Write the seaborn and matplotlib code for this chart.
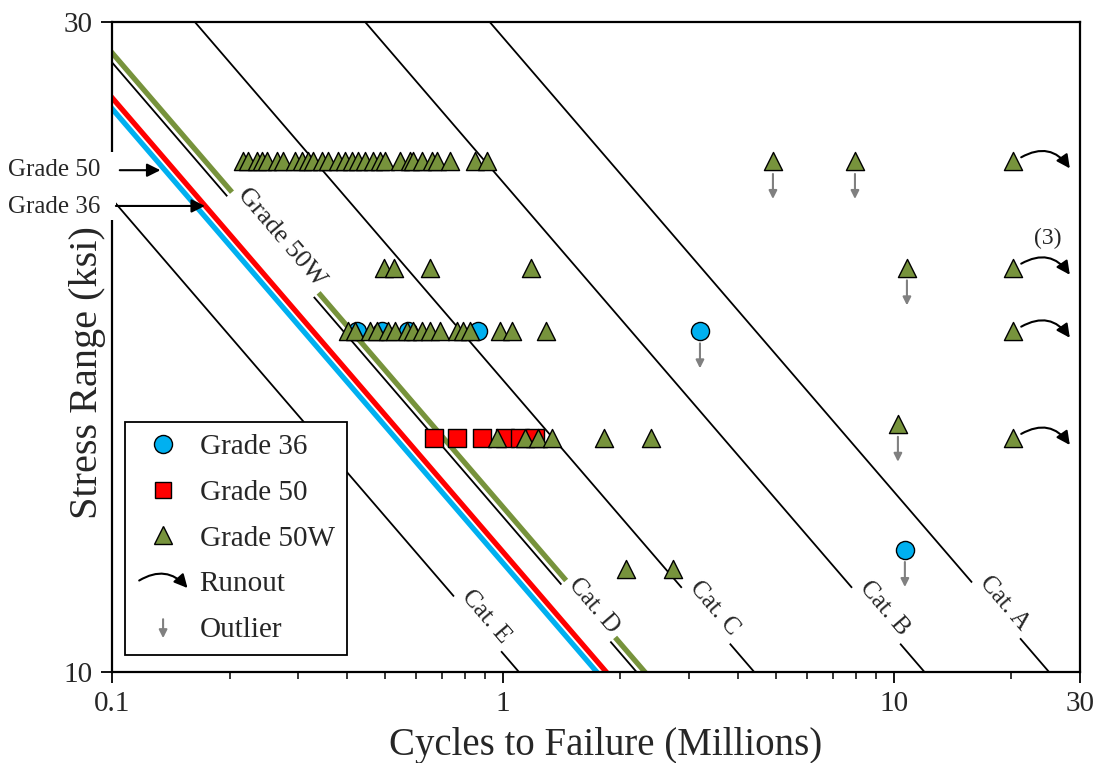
import numpy as np
import pandas as pd
import seaborn as sns
import matplotlib
matplotlib.use("Agg")
import matplotlib.pyplot as plt
from matplotlib.lines import Line2D
from matplotlib.patches import FancyArrowPatch, Rectangle
from matplotlib.legend_handler import HandlerBase
from matplotlib.transforms import ScaledTranslation
from matplotlib.ticker import FixedLocator, NullLocator, FixedFormatter

# ---------------- data ----------------
# Grade 36 (circles): cycles (millions), stress range (ksi)
g36_cycles = [0.4237, 0.4909, 0.5721, 0.8642, 3.196, 10.69]
g36_stress = [17.8, 17.8, 17.8, 17.8, 17.8, 12.3]

# Grade 50 (squares)
g50_cycles = [0.6668, 0.7635, 0.8848, 1.013, 1.107, 1.209]
g50_stress = [14.85, 14.85, 14.85, 14.85, 14.85, 14.85]

# Grade 50W (triangles)
g50w_cycles = [
    # 23.7 ksi
    0.2164, 0.2228, 0.2350, 0.2420, 0.2493, 0.2644, 0.2739, 0.2940, 0.3064, 0.3174,
    0.3269, 0.3446, 0.3570, 0.3787, 0.3947, 0.4113, 0.4261, 0.4441, 0.4655, 0.4851,
    0.4996, 0.5457, 0.5788, 0.5891, 0.6212, 0.6590, 0.6787, 0.7327, 0.8488, 0.9112,
    4.913, 7.966, 20.2,
    # 19.8 ksi
    0.4966, 0.5268, 0.6512, 1.181, 10.82, 20.2,
    # 17.8 ksi
    0.4017, 0.4186, 0.4573, 0.4766, 0.5085, 0.5300, 0.5687, 0.5891, 0.6212, 0.6512,
    0.6908, 0.7635, 0.7910, 0.8243, 0.9836, 1.056, 1.290, 20.2,
    # 14.85 ksi (one outlier at 15.2)
    0.9665, 1.140, 1.231, 1.336, 1.816, 2.395, 10.26, 20.2,
    # 11.9 ksi
    2.067, 2.726,
]
g50w_stress = (
    [23.7] * 33
    + [19.8] * 6
    + [17.8] * 18
    + [14.85] * 6 + [15.2] + [14.85]
    + [11.9] * 2
)

# Outliers and runouts (cycles, stress)
outlier_cycles = [4.913, 7.966, 10.82, 10.26, 3.196, 10.69]
outlier_stress = [23.7, 23.7, 19.8, 15.2, 17.8, 12.3]
runout_cycles = [20.2, 20.2, 20.2, 20.2]
runout_stress = [23.7, 19.8, 17.8, 14.85]

# S-N curves: N (millions of cycles) = A / S^3
cat_names = ["Cat. A", "Cat. B", "Cat. C", "Cat. D", "Cat. E"]
cat_A = [25000.0, 12000.0, 4400.0, 2200.0, 1100.0]
grade_line_names = ["Grade 50W", "Grade 50", "Grade 36"]
grade_line_A = [2310.0, 1840.0, 1740.0]

x_ticks = [0.1, 1, 10, 30]
x_tick_labels = ["0.1", "1", "10", "30"]
x_minor = [0.2, 0.3, 0.4, 0.5, 0.6, 0.7, 0.8, 0.9, 2, 3, 4, 5, 6, 7, 8, 9, 20]
y_ticks = [10, 30]
y_tick_labels = ["10", "30"]

# ---------------- style ----------------
sns.set_theme(style="white")
plt.rcParams["font.family"] = ["Liberation Serif", "DejaVu Serif"]

BLUE = "#00B0F0"
RED = "#FF0000"
GREEN = "#77933C"
GRAY = "#808080"

fig = plt.figure(figsize=(10.99, 7.63), dpi=100)
ax = fig.add_axes([112 / 1099, (763 - 672) / 763, (1080 - 112) / 1099, (672 - 22) / 763])
ax.set_xscale("log")
ax.set_yscale("log")

S_grid = np.array([9.0, 31.0])

# category lines
for name, A in zip(cat_names, cat_A):
    df = pd.DataFrame({"N": A / S_grid ** 3, "S": S_grid})
    sns.lineplot(data=df, x="N", y="S", ax=ax, color="black", lw=1.3,
                 estimator=None, sort=False, zorder=2)

# grade lines
for name, A, c in zip(grade_line_names, grade_line_A, [GREEN, RED, BLUE]):
    df = pd.DataFrame({"N": A / S_grid ** 3, "S": S_grid})
    sns.lineplot(data=df, x="N", y="S", ax=ax, color=c, lw=3.8,
                 estimator=None, sort=False, zorder=2.2)

ax.set_xlim(0.1, 30)
ax.set_ylim(10, 30)

# rotation angle of S-N lines in display space
def line_angle(A):
    p1 = ax.transData.transform((A / 12.0 ** 3, 12.0))
    p2 = ax.transData.transform((A / 20.0 ** 3, 20.0))
    a = np.degrees(np.arctan2(p2[1] - p1[1], p2[0] - p1[0]))
    if a > 90:
        a -= 180
    if a < -90:
        a += 180
    return a

ang = line_angle(2200.0)

label_S = [11.1, 11.0, 11.0, 11.05, 10.85]
for name, A, s in zip(cat_names, cat_A, label_S):
    ax.annotate(name, xy=(A / s ** 3, s), xytext=(6, 5), textcoords="offset points",
                rotation=ang, rotation_mode="anchor", ha="center", va="center",
                fontsize=18, zorder=3,
                bbox=dict(boxstyle="square,pad=0.2", fc="white", ec="none"))

ax.annotate("Grade 50W", xy=(2255.0 / 20.6 ** 3, 20.6), xytext=(6, 5),
            textcoords="offset points", rotation=ang, rotation_mode="anchor",
            ha="center", va="center", fontsize=19, zorder=3,
            bbox=dict(boxstyle="square,pad=0.2", fc="white", ec="none"))

# ---------------- points ----------------
pts = pd.DataFrame({
    "cycles": g36_cycles + g50_cycles + g50w_cycles,
    "stress": g36_stress + g50_stress + g50w_stress,
    "grade": ["Grade 36"] * len(g36_cycles) + ["Grade 50"] * len(g50_cycles)
             + ["Grade 50W"] * len(g50w_cycles),
})
markers = {"Grade 36": "o", "Grade 50": "s", "Grade 50W": "^"}
palette = {"Grade 36": BLUE, "Grade 50": RED, "Grade 50W": GREEN}
sizes = {"Grade 36": 170, "Grade 50": 150, "Grade 50W": 170}
for g in ["Grade 36", "Grade 50", "Grade 50W"]:
    sub = pts[pts["grade"] == g]
    sns.scatterplot(data=sub, x="cycles", y="stress", marker=markers[g],
                    color=palette[g], s=sizes[g], edgecolor="black",
                    linewidth=1.0, ax=ax, legend=False, zorder=4)

# outlier arrows
head_tr = ax.transData + ScaledTranslation(0, -27 / 72, fig.dpi_scale_trans)
tail_tr = ax.transData + ScaledTranslation(0, -9 / 72, fig.dpi_scale_trans)
for x, y in zip(outlier_cycles, outlier_stress):
    ax.annotate("", xy=(x, y), xycoords=head_tr, xytext=(x, y), textcoords=tail_tr,
                arrowprops=dict(arrowstyle="-|>", color=GRAY, lw=1.5,
                                mutation_scale=12, shrinkA=0, shrinkB=0), zorder=5)

# runout arrows
r_tail = ax.transData + ScaledTranslation(6 / 72, 3 / 72, fig.dpi_scale_trans)
r_head = ax.transData + ScaledTranslation(41 / 72, -5 / 72, fig.dpi_scale_trans)
for x, y in zip(runout_cycles, runout_stress):
    ax.annotate("", xy=(x, y), xycoords=r_head, xytext=(x, y), textcoords=r_tail,
                arrowprops=dict(arrowstyle="-|>", color="black", lw=1.5,
                                mutation_scale=20, shrinkA=0, shrinkB=0,
                                connectionstyle="arc3,rad=-0.45"), zorder=5)
ax.annotate("(3)", xy=(runout_cycles[1], runout_stress[1]), xytext=(25, 21),
            textcoords="offset points", ha="center", va="center", fontsize=17)

# ---------------- axes formatting ----------------
ax.xaxis.set_major_locator(FixedLocator(x_ticks))
ax.xaxis.set_major_formatter(FixedFormatter(x_tick_labels))
ax.xaxis.set_minor_locator(FixedLocator(x_minor))
ax.xaxis.set_minor_formatter(plt.NullFormatter())
ax.yaxis.set_major_locator(FixedLocator(y_ticks))
ax.yaxis.set_major_formatter(FixedFormatter(y_tick_labels))
ax.yaxis.set_minor_locator(NullLocator())
ax.tick_params(axis="both", which="major", direction="out", length=8, width=1.3,
               labelsize=21, color="black", pad=6, bottom=True, left=True)
ax.tick_params(axis="x", which="minor", direction="out", length=5, width=1.1,
               color="black", bottom=True)
for sp in ax.spines.values():
    sp.set_color("black")
    sp.set_linewidth(1.6)
    sp.set_visible(True)
ax.set_xlabel("Cycles to Failure (Millions)", fontsize=28)
ax.xaxis.set_label_coords(0.51, -0.084)
ax.set_ylabel("Stress Range (ksi)", fontsize=29)
ax.yaxis.set_label_coords(-0.006, 0.46)

# left side labels with arrows
ax.add_patch(Rectangle((-0.03, 0.695), 0.034, 0.105, transform=ax.transAxes,
                       fc="white", ec="none", clip_on=False, zorder=6))
ax.text(-0.012, 0.773, "Grade 50", transform=ax.transAxes, ha="right", va="center",
        fontsize=18, zorder=7, clip_on=False)
ax.text(-0.012, 0.715, "Grade 36", transform=ax.transAxes, ha="right", va="center",
        fontsize=18, zorder=7, clip_on=False)
ax.annotate("", xy=(0.050, 0.772), xycoords="axes fraction", xytext=(0.008, 0.772),
            arrowprops=dict(arrowstyle="-|>", color="black", lw=1.5, mutation_scale=20,
                            shrinkA=0, shrinkB=0), zorder=7, annotation_clip=False)
ax.annotate("", xy=(0.096, 0.717), xycoords="axes fraction", xytext=(0.004, 0.717),
            arrowprops=dict(arrowstyle="-|>", color="black", lw=1.5, mutation_scale=20,
                            shrinkA=0, shrinkB=0), zorder=7, annotation_clip=False)

# ---------------- legend ----------------
class RunoutHandler(HandlerBase):
    def create_artists(self, legend, orig_handle, xdescent, ydescent, width, height,
                       fontsize, trans):
        p = FancyArrowPatch((-xdescent, -ydescent + height * 0.45),
                            (-xdescent + width, -ydescent + height * 0.05),
                            connectionstyle="arc3,rad=-0.45", arrowstyle="-|>",
                            mutation_scale=20, lw=1.5, color="black", transform=trans)
        return [p]


class OutlierHandler(HandlerBase):
    def create_artists(self, legend, orig_handle, xdescent, ydescent, width, height,
                       fontsize, trans):
        cx = -xdescent + width / 2
        p = FancyArrowPatch((cx, -ydescent + height * 1.0), (cx, -ydescent - height * 0.2),
                            arrowstyle="-|>", mutation_scale=12, lw=1.5, color=GRAY,
                            transform=trans)
        return [p]


h36 = Line2D([], [], marker="o", ls="none", mfc=BLUE, mec="black", ms=13, mew=1.0)
h50 = Line2D([], [], marker="s", ls="none", mfc=RED, mec="black", ms=12, mew=1.0)
h50w = Line2D([], [], marker="^", ls="none", mfc=GREEN, mec="black", ms=13, mew=1.0)
hrun = Line2D([], [])
hout = Line2D([], [])
leg = ax.legend([h36, h50, h50w, hrun, hout],
                ["Grade 36", "Grade 50", "Grade 50W", "Runout", "Outlier"],
                handler_map={hrun: RunoutHandler(), hout: OutlierHandler()},
                loc="lower left", bbox_to_anchor=(0.013, 0.026), borderaxespad=0,
                fontsize=21, frameon=True, fancybox=False, edgecolor="black",
                framealpha=1, handlelength=1.8, handletextpad=0.35,
                labelspacing=0.66, borderpad=0.42)
leg.get_frame().set_linewidth(1.3)
leg.set_zorder(8)

fig.savefig("out.png", dpi=100)
